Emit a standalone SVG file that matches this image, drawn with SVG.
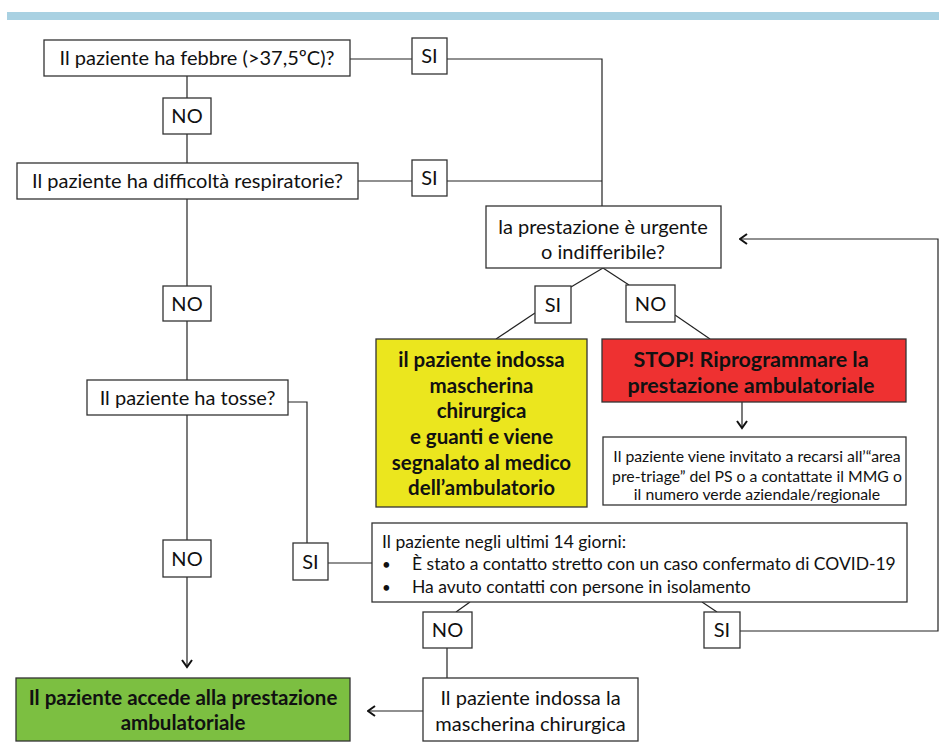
<svg xmlns="http://www.w3.org/2000/svg" width="939" height="752" viewBox="0 0 939 752">
<defs>
<style>
.box{fill:#fff;stroke:#333;stroke-width:1.3}
.yel{fill:#ebe61e;stroke:#333;stroke-width:1.3}
.red{fill:#ee3131;stroke:#333;stroke-width:1.3}
.grn{fill:#7cbf41;stroke:#333;stroke-width:1.3}
.ln{fill:none;stroke:#222;stroke-width:1.2}
.arr{fill:none;stroke:#222;stroke-width:1.2;marker-end:url(#ah)}
text{font-family:Lato,"Liberation Sans",sans-serif;fill:#111}
.t{font-size:20px;text-anchor:middle}
.b{font-size:20.5px;font-weight:bold;text-anchor:middle}
.s{font-size:17.5px}
.i{font-size:15.8px;text-anchor:middle}
</style>
<marker id="ah" viewBox="0 0 10 12" refX="8.5" refY="6" markerWidth="10" markerHeight="12" markerUnits="userSpaceOnUse" orient="auto">
<path d="M1.5,1 L8.5,6 L1.5,11" fill="none" stroke="#111" stroke-width="2"/>
</marker>
</defs>
<rect x="7" y="12" width="932" height="8" fill="#a9d1e2"/>
<g id="connectors">
<path class="ln" d="M350,59 H412"/>
<path class="ln" d="M447,59 H602 V206"/>
<path class="ln" d="M358,181 H412"/>
<path class="ln" d="M447,181 H602"/>
<path class="ln" d="M187,76 V98"/>
<path class="ln" d="M187,134 V163"/>
<path class="ln" d="M187,199 V286"/>
<path class="ln" d="M187,321 V380"/>
<path class="ln" d="M187,415 V540"/>
<path class="arr" d="M187,577 V667"/>
<path class="ln" d="M603,268 L571,287"/>
<path class="ln" d="M603,268 L629,285"/>
<path class="ln" d="M535,313 L496,339"/>
<path class="ln" d="M675,315 L710,339"/>
<path class="arr" d="M742,402 V428"/>
<path class="ln" d="M288,402 H307 V543"/>
<path class="ln" d="M328,563 H372"/>
<path class="ln" d="M470,602 L456,612"/>
<path class="ln" d="M702,602 L717,612"/>
<path class="ln" d="M447,648 V678"/>
<path class="arr" d="M423,711 H368"/>
<path class="arr" d="M740,631 H938 V239 H740"/>
</g>
<g id="q-febbre"><rect class="box" x="44" y="40" width="306" height="36"/><text class="t" x="197" y="65">Il paziente ha febbre (&gt;37,5ºC)?</text></g>
<g id="si-febbre"><rect class="box" x="412" y="38" width="35" height="36"/><text class="t" x="429.5" y="63">SI</text></g>
<g id="no-febbre"><rect class="box" x="163" y="98" width="48" height="36"/><text class="t" x="187" y="123">NO</text></g>
<g id="q-respiro"><rect class="box" x="17" y="163" width="341" height="36"/><text class="t" x="187.5" y="188">Il paziente ha difficoltà respiratorie?</text></g>
<g id="si-respiro"><rect class="box" x="412" y="160" width="35" height="36"/><text class="t" x="429.5" y="185">SI</text></g>
<g id="q-urgente"><rect class="box" x="486" y="206" width="235" height="62"/><text class="t" x="603" y="234">la prestazione è urgente</text><text class="t" x="603" y="259">o indifferibile?</text></g>
<g id="no-respiro"><rect class="box" x="163" y="286" width="48" height="35"/><text class="t" x="187" y="310.5">NO</text></g>
<g id="si-urgente"><rect class="box" x="535" y="286" width="36" height="37"/><text class="t" x="553" y="311.5">SI</text></g>
<g id="no-urgente"><rect class="box" x="626" y="285" width="49" height="37"/><text class="t" x="650.5" y="310.5">NO</text></g>
<g id="q-tosse"><rect class="box" x="87" y="380" width="201" height="35"/><text class="t" x="187.5" y="405">Il paziente ha tosse?</text></g>
<g id="mascherina-guanti"><rect class="yel" x="376" y="339" width="211" height="168"/>
<text class="b" x="481.5" y="367">il paziente indossa</text>
<text class="b" x="481.5" y="393">mascherina</text>
<text class="b" x="481.5" y="418">chirurgica</text>
<text class="b" x="481.5" y="444">e guanti e viene</text>
<text class="b" x="481.5" y="470">segnalato al medico</text>
<text class="b" x="481.5" y="495">dell’ambulatorio</text></g>
<g id="stop"><rect class="red" x="602" y="339" width="304" height="63"/>
<text class="b" x="751" y="367" style="font-size:21.5px">STOP! Riprogrammare la</text>
<text class="b" x="751" y="393" style="font-size:21.5px">prestazione ambulatoriale</text></g>
<g id="pre-triage"><rect class="box" x="603" y="437" width="303" height="68"/>
<text class="i" x="757" y="462">Il paziente viene invitato a recarsi all’“area</text>
<text class="i" x="757" y="482">pre-triage” del PS o a contattate il MMG o</text>
<text class="i" x="757" y="500">il numero verde aziendale/regionale</text></g>
<g id="no-tosse"><rect class="box" x="163" y="540" width="48" height="37"/><text class="t" x="187" y="565.5">NO</text></g>
<g id="si-tosse"><rect class="box" x="293" y="543" width="35" height="37"/><text class="t" x="310.5" y="568.5">SI</text></g>
<g id="contatti"><rect class="box" x="372" y="523" width="535" height="79"/>
<text class="s" x="382" y="548">Il paziente negli ultimi 14 giorni:</text>
<text class="s" x="382" y="570" style="font-size:15px">•</text><text class="s" x="412" y="570">È stato a contatto stretto con un caso confermato di COVID-19</text>
<text class="s" x="382" y="593" style="font-size:15px">•</text><text class="s" x="412" y="593">Ha avuto contatti con persone in isolamento</text></g>
<g id="no-contatti"><rect class="box" x="423" y="612" width="49" height="36"/><text class="t" x="447.5" y="637">NO</text></g>
<g id="si-contatti"><rect class="box" x="704" y="612" width="36" height="36"/><text class="t" x="722" y="637">SI</text></g>
<g id="mascherina"><rect class="box" x="423" y="678" width="215" height="63"/>
<text class="t" x="530.5" y="705">Il paziente indossa la</text>
<text class="t" x="530.5" y="731">mascherina chirurgica</text></g>
<g id="accede"><rect class="grn" x="16" y="678" width="334" height="63"/>
<text class="b" x="183" y="705">Il paziente accede alla prestazione</text>
<text class="b" x="183" y="730">ambulatoriale</text></g>
</svg>
